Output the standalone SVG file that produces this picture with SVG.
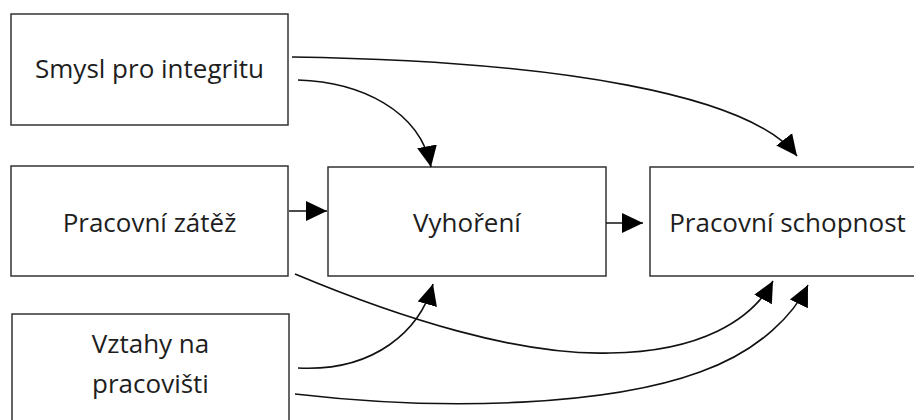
<svg xmlns="http://www.w3.org/2000/svg" width="914" height="420" viewBox="0 0 914 420">
  <defs>
    <style>
      .box { fill: #ffffff; stroke: #333333; stroke-width: 1.5; }
      .lbl { font-family: "Open Sans", "Noto Sans", "Liberation Sans", sans-serif; font-size: 26px; fill: #1e1e1e; text-anchor: middle; }
      .conn { fill: none; stroke: #111111; stroke-width: 1.6; }
    </style>
    <marker id="arrow" markerUnits="userSpaceOnUse" markerWidth="22" markerHeight="22" viewBox="0 0 22 22" refX="21" refY="11" orient="auto">
      <path d="M0,1 L21,11 L0,21 Z" fill="#000000"/>
    </marker>
  </defs>
  <rect width="914" height="420" fill="#ffffff"/>

  <g id="node-smysl">
    <rect class="box" x="11" y="14" width="277" height="111"/>
    <text class="lbl" x="149.5" y="78">Smysl pro integritu</text>
  </g>
  <g id="node-zatez">
    <rect class="box" x="11" y="166" width="277" height="110"/>
    <text class="lbl" x="149.5" y="232">Pracovní zátěž</text>
  </g>
  <g id="node-vyhoreni">
    <rect class="box" x="328" y="167" width="278" height="109"/>
    <text class="lbl" x="467" y="232">Vyhoření</text>
  </g>
  <g id="node-schopnost">
    <rect class="box" x="650" y="167" width="280" height="109"/>
    <text class="lbl" x="787.5" y="232">Pracovní schopnost</text>
  </g>
  <g id="node-vztahy">
    <rect class="box" x="12" y="314" width="277" height="120"/>
    <text class="lbl" x="150.5" y="353">Vztahy na</text>
    <text class="lbl" x="150.5" y="393">pracovišti</text>
  </g>

  <g id="connectors">
    <path class="conn" marker-end="url(#arrow)" d="M292,57 C560,61 750,95 797,156"/>
    <path class="conn" marker-end="url(#arrow)" d="M298,80 C360,82 420,110 431,167"/>
    <path class="conn" marker-end="url(#arrow)" d="M289,211 L327,211"/>
    <path class="conn" marker-end="url(#arrow)" d="M606,223 L643,223"/>
    <path class="conn" marker-end="url(#arrow)" d="M295,274 C400,318 520,356 610,353 C700,352 752,320 773,281"/>
    <path class="conn" marker-end="url(#arrow)" d="M298,368 C375,372 420,330 433,284"/>
    <path class="conn" marker-end="url(#arrow)" d="M295,394 C450,412 610,405 700,372 C762,350 795,312 808,285"/>
  </g>
</svg>
